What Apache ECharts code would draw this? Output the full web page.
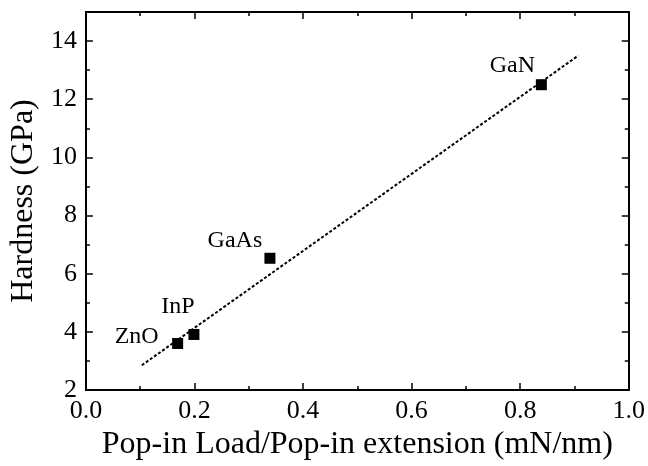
<!DOCTYPE html>
<html>
<head>
<meta charset="utf-8">
<script src="https://cdn.jsdelivr.net/npm/echarts@6/dist/echarts.min.js"></script>
<style>html,body{margin:0;padding:0;background:#fff}#c{width:648px;height:466px}</style>
</head>
<body>
<div id="c"></div>
<script>
// Data
var materials = ['ZnO', 'InP', 'GaAs', 'GaN'];
var popinRatio = [0.169, 0.199, 0.339, 0.839];
var hardness = [3.60, 3.91, 6.53, 12.50];
var fitX = [0.103, 0.907];
var fitY = [2.85, 13.50];
var xTicks = [0.0, 0.2, 0.4, 0.6, 0.8, 1.0];
var yTicks = [2, 4, 6, 8, 10, 12, 14];

// label offsets (style)
var labelOffsets = {ZnO: [-41, -7], InP: [-16, -28], GaAs: [-35, -18], GaN: [-29, -19]};

var font = 'Liberation Serif';
var pts = materials.map(function (m, i) {
  return {
    value: [popinRatio[i], hardness[i]],
    name: m,
    label: {show: true, formatter: m, position: 'inside', offset: labelOffsets[m],
      color: '#000', opacity: 1, fontFamily: font, fontSize: 24}
  };
});
var fitData = fitX.map(function (x, i) { return [x, fitY[i]]; });

var axisCommon = {
  axisLine: {show: true, onZero: false, lineStyle: {color: '#000', width: 2}},
  axisTick: {show: true, inside: true, length: 7, lineStyle: {color: '#000', width: 1.5}},
  minorTick: {show: true, splitNumber: 2, length: 4, lineStyle: {color: '#000', width: 1.5}},
  splitLine: {show: false},
  minorSplitLine: {show: false}
};

var chart = echarts.init(document.getElementById('c'));
chart.setOption({
  animation: false,
  backgroundColor: '#fff',
  grid: {left: 85, right: 14, top: 12, bottom: 73},
  xAxis: [
    Object.assign({}, axisCommon, {
      type: 'value', min: 0, max: 1, interval: 0.2, position: 'bottom',
      name: 'Pop-in Load/Pop-in extension (mN/nm)', nameLocation: 'middle', nameGap: 39,
      nameTextStyle: {fontFamily: font, fontSize: 32, color: '#000'},
      axisLabel: {color: '#000', fontFamily: font, fontSize: 26, margin: 8,
        formatter: function (v) { return xTicks.indexOf(+v.toFixed(1)) >= 0 ? v.toFixed(1) : ''; }}
    }),
    Object.assign({}, axisCommon, {
      type: 'value', min: 0, max: 1, interval: 0.2, position: 'top',
      axisLabel: {show: false}
    })
  ],
  yAxis: [
    Object.assign({}, axisCommon, {
      type: 'value', min: 2, max: 15, interval: 2, position: 'left',
      name: 'Hardness (GPa)', nameLocation: 'middle', nameGap: 44,
      nameTextStyle: {fontFamily: font, fontSize: 32, color: '#000'},
      axisLabel: {color: '#000', fontFamily: font, fontSize: 26, margin: 9, showMaxLabel: false,
        formatter: function (v) { return yTicks.indexOf(v) >= 0 ? String(v) : ''; }}
    }),
    Object.assign({}, axisCommon, {
      type: 'value', min: 2, max: 15, interval: 2, position: 'right',
      axisLabel: {show: false}
    })
  ],
  series: [
    {
      type: 'line', data: fitData, xAxisIndex: 0, yAxisIndex: 0,
      symbol: 'none', lineStyle: {color: '#000', width: 2, type: [3, 2]}, z: 2
    },
    {
      type: 'scatter', data: pts, xAxisIndex: 0, yAxisIndex: 0,
      symbol: 'rect', symbolSize: 11, itemStyle: {color: '#000', opacity: 1}, z: 3
    }
  ]
});
</script>
</body>
</html>
